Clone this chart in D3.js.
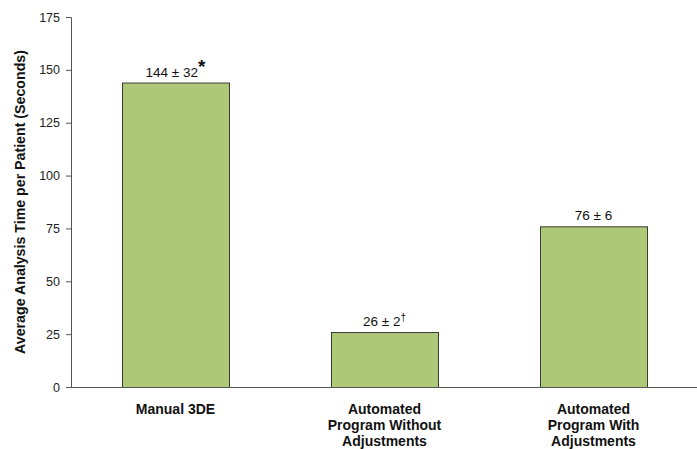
<!DOCTYPE html>
<html>
<head>
<meta charset="utf-8">
<script src="https://cdn.jsdelivr.net/npm/d3@7"></script>
<style>
  html, body { margin: 0; padding: 0; background: #fff; }
  svg { display: block; font-family: "Liberation Sans", Arial, Helvetica, sans-serif; }
</style>
</head>
<body>
<svg id="chart" width="697" height="449"></svg>
<script>
// Average analysis time per patient, by method
const categories = [
  ["Manual 3DE"],
  ["Automated", "Program Without", "Adjustments"],
  ["Automated", "Program With", "Adjustments"]
];
const means = [144, 26, 76];
const sds = [32, 2, 6];
const marks = ["*", "\u2020", ""];
const yTicks = [0, 25, 50, 75, 100, 125, 150, 175];
const yTitle = "Average Analysis Time per Patient (Seconds)";

const svg = d3.select("#chart");
const plotLeft = 71, plotRight = 698, plotTop = 17, plotBottom = 387;

const x = d3.scaleBand()
  .domain(d3.range(means.length))
  .range([plotLeft, plotRight])
  .paddingInner(0.488)
  .paddingOuter(0.244);

const y = d3.scaleLinear().domain([0, 175]).range([plotBottom, plotTop]);

// y axis
const yAxis = svg.append("g")
  .attr("transform", `translate(${plotLeft},0)`)
  .call(d3.axisLeft(y).tickValues(yTicks).tickSize(5).tickPadding(6).tickFormat(d3.format("d")));
yAxis.select(".domain").attr("stroke", "#555");
yAxis.selectAll(".tick line").attr("stroke", "#555");
yAxis.selectAll(".tick text").attr("font-size", 12.5).attr("fill", "#222");

// bars
svg.append("g").selectAll("rect")
  .data(means)
  .join("rect")
  .attr("x", (d, i) => x(i) + 0.5)
  .attr("y", d => y(d) + 0.5)
  .attr("width", x.bandwidth())
  .attr("height", d => y(0) - y(d))
  .attr("fill", "#adc978")
  .attr("stroke", "#3b3b33")
  .attr("stroke-width", 1);

// x axis line
svg.append("line")
  .attr("x1", plotLeft).attr("x2", plotRight - 1)
  .attr("y1", plotBottom + 0.5).attr("y2", plotBottom + 0.5)
  .attr("stroke", "#555").attr("stroke-width", 1.2);

// value labels: mean ± sd with significance marks
const vl = svg.append("g").selectAll("text")
  .data(means)
  .join("text")
  .attr("x", (d, i) => x(i) + x.bandwidth() / 2)
  .attr("y", d => y(d) - 6)
  .attr("text-anchor", "middle")
  .attr("font-size", 13.5)
  .attr("fill", "#111");
vl.append("tspan").text((d, i) => `${d} \u00b1 ${sds[i]}`);
vl.filter((d, i) => marks[i] === "*").append("tspan")
  .attr("dy", -4).attr("font-size", 19).attr("font-weight", "bold").text("*");
vl.filter((d, i) => marks[i] === "\u2020").append("tspan")
  .attr("dy", -5).attr("font-size", 10).text("\u2020");

// category labels
const cl = svg.append("g").selectAll("text")
  .data(categories)
  .join("text")
  .attr("x", (d, i) => x(i) + x.bandwidth() / 2)
  .attr("y", 414)
  .attr("text-anchor", "middle")
  .attr("font-size", 14)
  .attr("font-weight", "bold")
  .attr("fill", "#111");
cl.selectAll("tspan")
  .data(d => d)
  .join("tspan")
  .attr("x", function() { return this.parentNode.getAttribute("x"); })
  .attr("dy", (d, j) => j === 0 ? 0 : 16)
  .text(d => d);

// y axis title
svg.append("text")
  .attr("transform", `translate(25,${(plotTop + plotBottom) / 2}) rotate(-90)`)
  .attr("text-anchor", "middle")
  .attr("font-size", 14.2)
  .attr("font-weight", "bold")
  .attr("fill", "#111")
  .text(yTitle);
</script>
</body>
</html>
